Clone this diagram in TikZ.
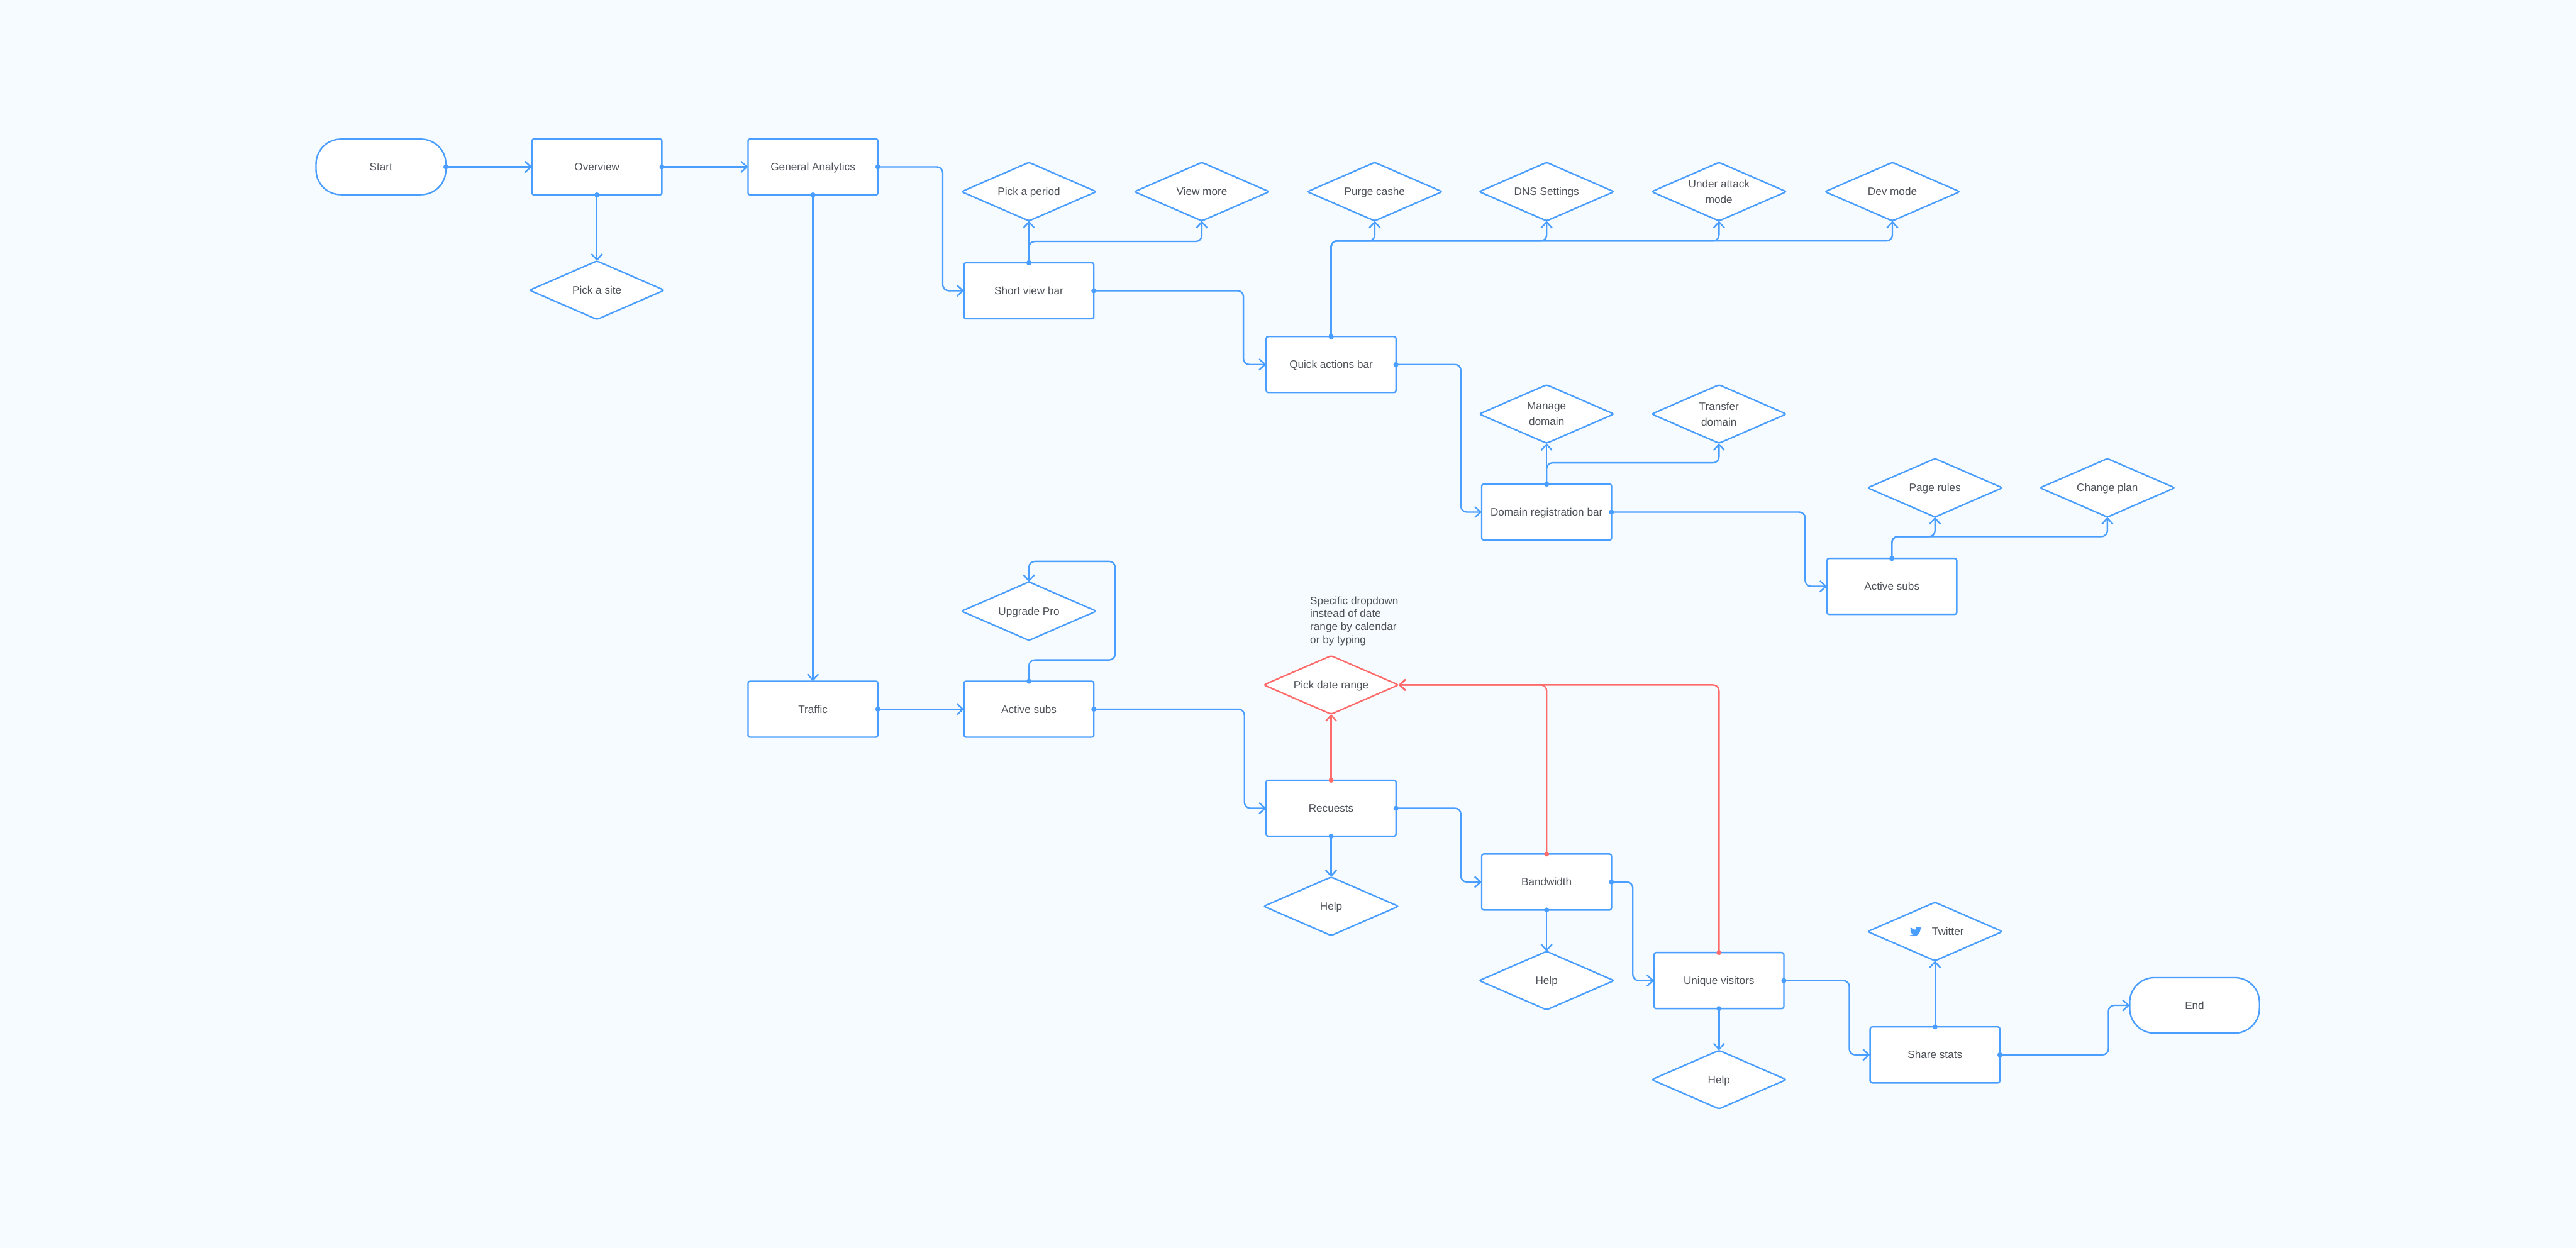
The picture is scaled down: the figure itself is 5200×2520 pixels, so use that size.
\documentclass[tikz,border=0pt]{standalone}
\usepackage{fontspec}
\setmainfont{Liberation Sans}
\usetikzlibrary{arrows.meta,shapes.geometric}

\definecolor{pagebg}{RGB}{245,251,255}
\definecolor{flow}{RGB}{74,158,255}
\definecolor{alert}{RGB}{255,107,107}
\definecolor{label}{RGB}{79,83,89}

\tikzset{
    basenode/.style={draw=flow,fill=white,line width=.3mm,outer sep=0pt,inner sep=0pt,text=label,
        align=center,text height=4.7pt,text depth=.3pt,font=\fontsize{6.2}{9.1}\selectfont},
    boxnode/.style={basenode,rectangle,rounded corners=.4mm,minimum width=2.62cm,minimum height=1.13cm},
    endnode/.style={basenode,rectangle,rounded corners=5mm,minimum width=2.62cm,minimum height=1.12cm},
    choice/.style={basenode,diamond,aspect=2.3,rounded corners=.4mm,minimum width=2.72cm,minimum height=1.18cm},
    twoline/.style={choice,text height=,text depth=},
    link/.style={draw=flow,line width=.3mm,rounded corners=1.2mm,shorten <=-.5mm,
        {Circle[length=1mm]}-{Straight Barb[length=1.2mm,width=2.2mm]}},
    redlink/.style={link,draw=alert},
}

\begin{document}
\begin{tikzpicture}[x=.1mm,y=-.1mm]

    \path[fill=pagebg,use as bounding box] (0,0) rectangle (5200,2520);

    \node[endnode] (start) at (769,337) {Start};
    \node[boxnode] (overview) at (1205,337) {Overview};
    \node[boxnode] (general) at (1641,337) {General Analytics};
    \node[choice] (site) at (1205,586) {Pick a site};

    \node[boxnode] (short) at (2077,587) {Short view bar};
    \node[choice] (period) at (2077,387) {Pick a period};
    \node[choice] (more) at (2426,387) {View more};

    \node[boxnode] (quick) at (2687,736) {Quick actions bar};
    \node[choice] (purge) at (2775,387) {Purge cashe};
    \node[choice] (dns) at (3122,387) {DNS Settings};
    \node[twoline] (attack) at (3470,387) {Under attack\\mode};
    \node[choice] (dev) at (3820,387) {Dev mode};

    \node[boxnode] (domain) at (3122,1034) {Domain registration bar};
    \node[twoline] (manage) at (3122,836) {Manage\\domain};
    \node[twoline] (transfer) at (3470,836) {Transfer\\domain};

    \node[boxnode] (subsa) at (3819,1184) {Active subs};
    \node[choice] (rules) at (3906,985) {Page rules};
    \node[choice] (plan) at (4254,985) {Change plan};

    \node[boxnode] (traffic) at (1641,1432) {Traffic};
    \node[boxnode] (subsb) at (2077,1432) {Active subs};
    \node[choice] (upgrade) at (2077,1234) {Upgrade Pro};

    \node[choice,draw=alert] (range) at (2687,1383) {Pick date range};
    \node[anchor=west,align=left,text=label,inner sep=0pt,font=\fontsize{6.2}{7.5}\selectfont] (note) at (2644,1254)
        {Specific dropdown\\instead of date\\range by calendar\\or by typing};

    \node[boxnode] (requests) at (2687,1632) {Recuests};
    \node[choice] (helpa) at (2687,1830) {Help};
    \node[boxnode] (bandwidth) at (3122,1781) {Bandwidth};
    \node[choice] (helpb) at (3122,1980) {Help};
    \node[boxnode] (visitors) at (3470,1980) {Unique visitors};
    \node[choice] (helpc) at (3470,2180) {Help};

    \node[boxnode] (share) at (3906,2130) {Share stats};
    \node[choice] (twitter) at (3906,1881) {\hspace{5.2mm}Twitter};
    \node[endnode] (end) at (4430,2030) {End};

    \fill[flow,shift={(twitter.center)},shift={(-51,-12)}] (24,4.6) -- (21.1,5.3) -- (23.3,2.6) -- (20.2,3.8)
        .. controls (19.3,2.8) and (18,2.3) .. (16.6,2.3) .. controls (13.8,2.3) and (11.6,4.6) .. (11.6,7.2)
        .. controls (11.6,7.6) and (11.6,8) .. (11.7,8.3) .. controls (7.7,8.1) and (4.1,6.1) .. (1.6,3.2)
        .. controls (0.5,5.2) and (1.1,8.3) .. (3.2,9.7) -- (0.9,9.1) .. controls (0.9,11.5) and (2.6,13.4) .. (4.9,13.9)
        -- (2.7,14) .. controls (3.3,15.9) and (5.1,17.3) .. (7.3,17.4) .. controls (5.5,18.8) and (2.9,19.7) .. (0,19.4)
        .. controls (2.2,20.8) and (4.8,21.6) .. (7.6,21.6) .. controls (16.6,21.6) and (21.6,14.1) .. (21.6,7.6)
        -- (21.6,7) .. controls (22.5,6.3) and (23.3,5.5) .. (24,4.6) -- cycle;

    \draw[link] (start.east) to (overview.west);
    \draw[link] (overview.east) to (general.west);
    \draw[link] (overview.south) to (site.north);
    \draw[link] (general.east) -- ++(131,0) |- (short.west);
    \draw[link] (general.south) to (traffic.north);

    \draw[link] (short.north) to (period.south);
    \draw[link] (short.north) -- ++(0,-43) -| (more.south);
    \draw[link] (short.east) -- ++(302,0) |- (quick.west);

    \draw[link] (quick.north) -- ++(0,-193) -| (purge.south);
    \draw[link] (quick.north) -- ++(0,-193) -| (dns.south);
    \draw[link] (quick.north) -- ++(0,-193) -| (attack.south);
    \draw[link] (quick.north) -- ++(0,-193) -| (dev.south);
    \draw[link] (quick.east) -- ++(131,0) |- (domain.west);

    \draw[link] (domain.north) to (manage.south);
    \draw[link] (domain.north) -- ++(0,-43) -| (transfer.south);
    \draw[link] (domain.east) -- ++(391,0) |- (subsa.west);

    \draw[link] (subsa.north) -- ++(0,-44) -| (rules.south);
    \draw[link] (subsa.north) -- ++(0,-44) -| (plan.south);

    \draw[link] (traffic.east) to (subsb.west);
    \draw[link] (subsb.north) -- ++(0,-43) -- ++(174,0) -- ++(0,-199) -- ++(-174,0) -- (upgrade.north);
    \draw[link] (subsb.east) -- ++(304,0) |- (requests.west);

    \draw[redlink] (requests.north) to (range.south);
    \draw[redlink] (bandwidth.north) |- (range.east);
    \draw[redlink] (visitors.north) |- (range.east);

    \draw[link] (requests.south) to (helpa.north);
    \draw[link] (requests.east) -- ++(131,0) |- (bandwidth.west);
    \draw[link] (bandwidth.south) to (helpb.north);
    \draw[link] (bandwidth.east) -- ++(43,0) |- (visitors.west);
    \draw[link] (visitors.south) to (helpc.north);
    \draw[link] (visitors.east) -- ++(132,0) |- (share.west);

    \draw[link] (share.north) to (twitter.south);
    \draw[link] (share.east) -- ++(219,0) |- (end.west);

\end{tikzpicture}
\end{document}
